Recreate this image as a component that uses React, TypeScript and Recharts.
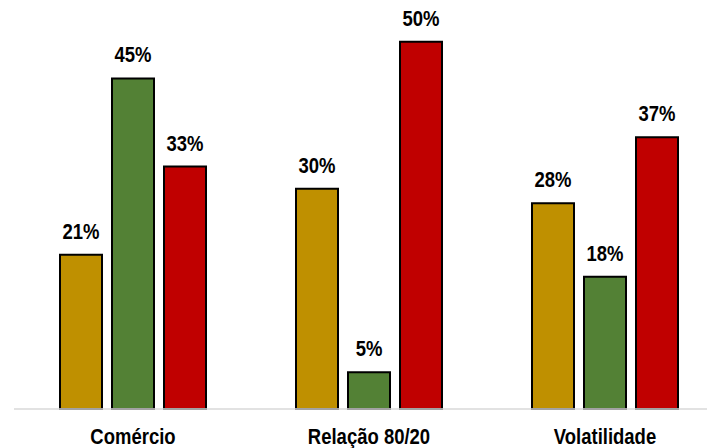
import { BarChart, Bar, XAxis, YAxis, LabelList } from 'recharts';

const categories = ['Comércio', 'Relação 80/20', 'Volatilidade'];
const goldValues = [21, 30, 28];
const greenValues = [45, 5, 18];
const redValues = [33, 50, 37];

const data = categories.map((name, i) => ({
  name,
  gold: goldValues[i],
  green: greenValues[i],
  red: redValues[i],
}));

// narrow bold look: Liberation Sans squeezed horizontally
const font = '"Liberation Sans", Arial, sans-serif';
const fontSize = 21.5;
const squeeze = 0.86;

const NarrowText = ({ x, y, text }: { x: number; y: number; text: string }) => (
  <g transform={`translate(${x},${y}) scale(${squeeze},1)`}>
    <text x={0} y={0} textAnchor="middle" fill="#000" fontSize={fontSize} fontWeight={700} fontFamily={font}>
      {text}
    </text>
  </g>
);

const renderLabel = (props: any) => {
  const { x, y, width, value } = props;
  return <NarrowText x={x + width / 2} y={y - 16} text={`${value}%`} />;
};

const renderTick = (props: any) => {
  const { x, y, payload } = props;
  return <NarrowText x={x} y={y + 27} text={payload.value} />;
};

export default function App() {
  return (
    <div style={{ position: 'absolute', left: 0, top: 0, width: 707, height: 448, overflow: 'hidden', background: '#fff' }}>
      <BarChart
        width={730}
        height={448}
        data={data}
        margin={{ top: 5, right: 7, bottom: 0, left: 14 }}
        barCategoryGap={45}
        barGap={10}
      >
        <XAxis
          dataKey="name"
          axisLine={{ stroke: '#D9D9D9', strokeWidth: 1.5 }}
          tickLine={false}
          padding={{ left: 1, right: 0 }}
          height={39}
          tick={renderTick}
          interval={0}
        />
        <YAxis hide domain={[0, 55]} />
        <Bar dataKey="gold" fill="#BF9000" stroke="#000" strokeWidth={2} isAnimationActive={false}>
          <LabelList dataKey="gold" content={renderLabel} />
        </Bar>
        <Bar dataKey="green" fill="#538135" stroke="#000" strokeWidth={2} isAnimationActive={false}>
          <LabelList dataKey="green" content={renderLabel} />
        </Bar>
        <Bar dataKey="red" fill="#C00000" stroke="#000" strokeWidth={2} isAnimationActive={false}>
          <LabelList dataKey="red" content={renderLabel} />
        </Bar>
      </BarChart>
    </div>
  );
}
